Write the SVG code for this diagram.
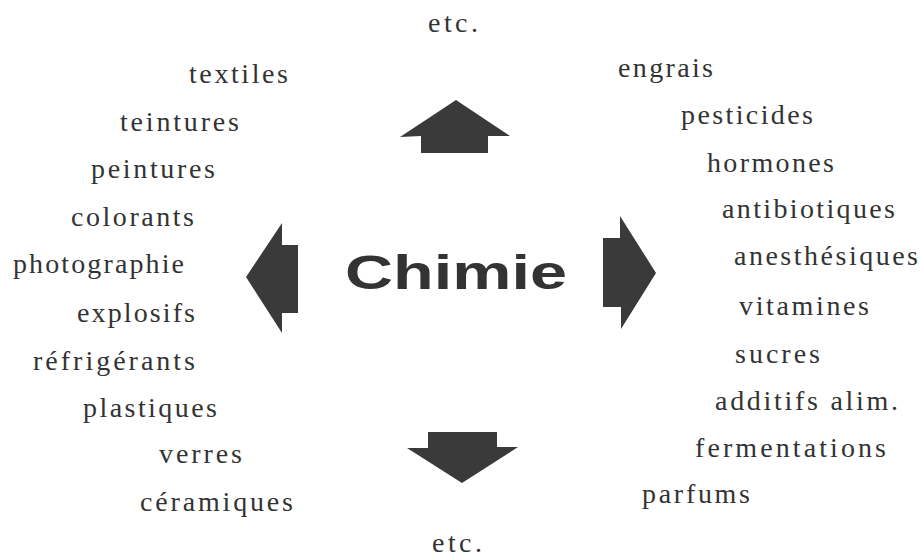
<svg xmlns="http://www.w3.org/2000/svg" width="920" height="557" viewBox="0 0 920 557">
<style>
.lbl{font-family:"Liberation Serif","Times New Roman",serif;font-size:28px;fill:#333}
.title{font-family:"Liberation Sans",Arial,sans-serif;font-size:49px;font-weight:bold;fill:#333}
.arrow{fill:#3a3a3a}
</style>
<rect width="920" height="557" fill="#fff"/>
<g id="center"><text class="title" x="345" y="289" textLength="222" lengthAdjust="spacingAndGlyphs">Chimie</text></g>
<g id="connectors">
<polygon class="arrow" points="456,100 510,136 488,136 488,153 421,153 421,136 400,137"/>
<polygon class="arrow" points="246,277 282,223 282,245 298,245 298,313 282,313 282,333"/>
<polygon class="arrow" points="656,273 620,216 620,238 603,238 603,307 621,307 621,329"/>
<polygon class="arrow" points="462,483 518,447 497,447 497,432 428,432 428,448 407,448"/>
</g>
<g id="top"><text class="lbl" x="428" y="32" textLength="50">etc.</text></g>
<g id="bottom"><text class="lbl" x="432" y="552" textLength="50">etc.</text></g>
<g id="left">
<text class="lbl" x="189" y="83" textLength="99">textiles</text>
<text class="lbl" x="120" y="131" textLength="119">teintures</text>
<text class="lbl" x="91" y="178" textLength="124">peintures</text>
<text class="lbl" x="71" y="226" textLength="123">colorants</text>
<text class="lbl" x="13" y="273" textLength="171">photographie</text>
<text class="lbl" x="77" y="322" textLength="118">explosifs</text>
<text class="lbl" x="33" y="370" textLength="162">réfrigérants</text>
<text class="lbl" x="83" y="417" textLength="134">plastiques</text>
<text class="lbl" x="159" y="463" textLength="83">verres</text>
<text class="lbl" x="140" y="511" textLength="153">céramiques</text>
</g>
<g id="right">
<text class="lbl" x="618" y="77" textLength="95">engrais</text>
<text class="lbl" x="681" y="124" textLength="132">pesticides</text>
<text class="lbl" x="707" y="172" textLength="127">hormones</text>
<text class="lbl" x="722" y="218" textLength="173">antibiotiques</text>
<text class="lbl" x="734" y="265" textLength="184">anesthésiques</text>
<text class="lbl" x="739" y="315" textLength="130">vitamines</text>
<text class="lbl" x="735" y="363" textLength="85">sucres</text>
<text class="lbl" x="715" y="410" textLength="183">additifs alim.</text>
<text class="lbl" x="695" y="457" textLength="191">fermentations</text>
<text class="lbl" x="642" y="503" textLength="108">parfums</text>
</g>
</svg>
